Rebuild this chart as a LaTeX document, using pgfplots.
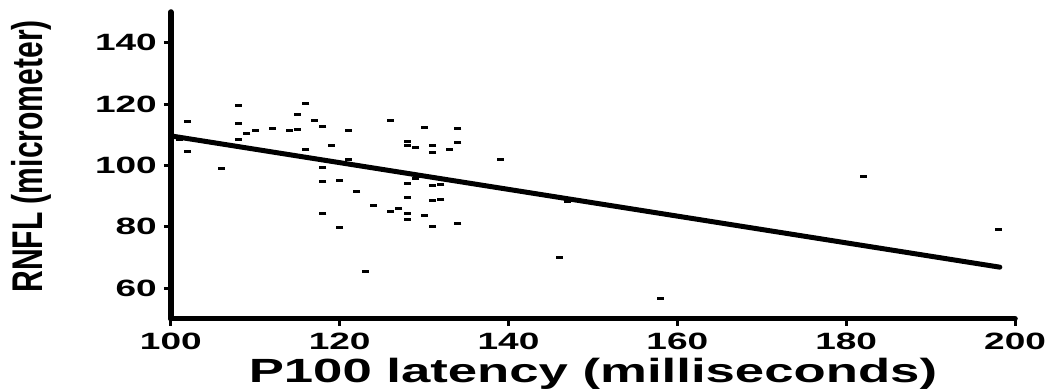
\documentclass[border=0pt]{standalone}
\usepackage{pgfplots}
\pgfplotsset{compat=1.18}
\usepackage{fontspec}
\setmainfont{Liberation Sans}[FakeStretch=1.57]
\newfontfamily\ylabfont{Liberation Sans}[FakeStretch=0.70]
\begin{document}
\begin{tikzpicture}
\begin{axis}[name=ax, width=422.5pt, height=153.5pt, scale only axis,
 xmin=100, xmax=200, ymin=50, ymax=150,
 axis lines=left,
 axis line style={-, line width=2.75pt, line cap=round},
 xtick={100,120,...,200}, ytick={60,80,...,140},
 tick align=outside, major tick length=3.5pt,
 tick style={line width=1.5pt, black},
 ticklabel style={font=\fontsize{11.8}{12}\selectfont\bfseries},
 /pgf/number format/assume math mode=true,
 xlabel={P100 latency (milliseconds)}, ylabel={RNFL (micrometer)},
 xlabel style={font=\fontsize{16.8}{18}\selectfont\bfseries, at={([yshift=-27.5pt]axis description cs:0.5,0)}, anchor=center},
 ylabel style={font=\ylabfont\fontsize{21.5}{22}\selectfont\bfseries, at={([xshift=-70pt,yshift=4.5pt]axis description cs:0,0.5)}, anchor=center},
 clip=false]
\addplot[only marks, mark=-, mark size=1.75pt, mark options={line width=1.5pt, black}] table {
x y
116 120.1
115 116.6
117 114.6
118 112.6
114 111.4
115 111.7
121 111.3
126 114.6
130 112.3
134 111.9
128 107.9
128 106.4
129 105.8
131 106.4
131 104.1
133 105.1
134 107.4
119 106.6
116 105.1
121 102.0
139 101.9
118 99.3
118 94.7
120 94.9
122 91.6
129 95.6
128 94.2
131 93.4
132 93.9
128 89.6
131 88.4
132 88.9
124 86.9
126 85.1
127 85.9
118 84.2
128 84.2
130 83.7
128 82.2
120 79.7
131 79.9
134 81.1
102 114.2
108 119.4
108 113.8
109 110.4
110 111.3
112 112.1
108 108.3
102 104.6
106 98.9
101 108.4
123 65.5
147 88.1
146 70.0
158 56.7
182 96.4
198 79.0
};
\addplot[black, line width=2.5pt, line cap=round] coordinates {(100,109.6) (198.2,66.8)};
\end{axis}
\pgfresetboundingbox
\path ([xshift=-85.5pt,yshift=-36.5pt]ax.south west) rectangle ([xshift=18.5pt,yshift=6pt]ax.north east);
\end{tikzpicture}
\end{document}
